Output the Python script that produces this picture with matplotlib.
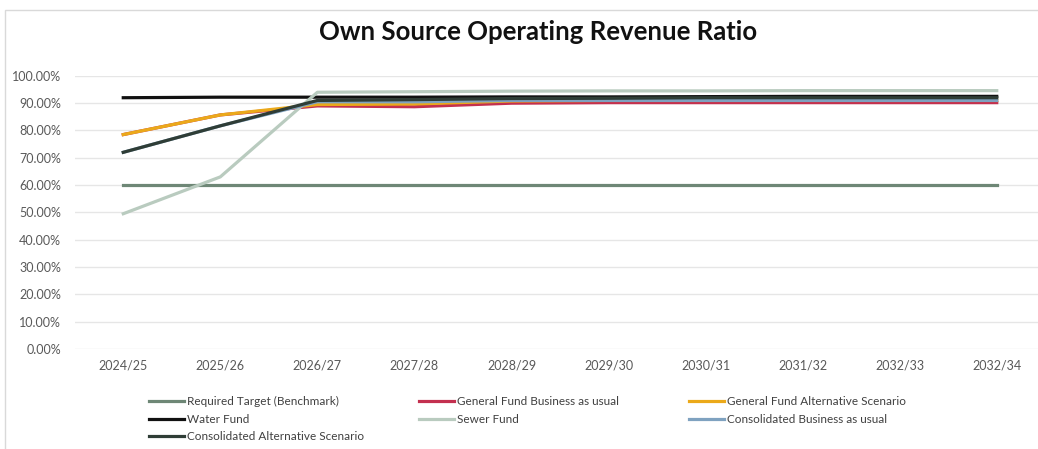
import matplotlib
matplotlib.use("Agg")
import matplotlib.pyplot as plt
from matplotlib.patches import Rectangle
from matplotlib.ticker import PercentFormatter

plt.rcParams['font.family'] = ['Lato', 'DejaVu Sans']

# Data
years = ["2024/25", "2025/26", "2026/27", "2027/28", "2028/29",
         "2029/30", "2030/31", "2031/32", "2032/33", "2032/34"]
required_target = [0.60, 0.60, 0.60, 0.60, 0.60, 0.60, 0.60, 0.60, 0.60, 0.60]
gf_business     = [0.785, 0.857, 0.890, 0.887, 0.900, 0.902, 0.902, 0.902, 0.902, 0.902]
gf_alternative  = [0.785, 0.857, 0.895, 0.897, 0.908, 0.910, 0.910, 0.910, 0.910, 0.910]
water_fund      = [0.920, 0.922, 0.922, 0.922, 0.923, 0.923, 0.924, 0.925, 0.925, 0.925]
sewer_fund      = [0.495, 0.630, 0.940, 0.942, 0.944, 0.945, 0.945, 0.946, 0.946, 0.946]
cons_business   = [0.720, 0.817, 0.905, 0.905, 0.910, 0.910, 0.910, 0.910, 0.910, 0.910]
cons_alternative = [0.720, 0.817, 0.910, 0.913, 0.917, 0.918, 0.920, 0.920, 0.920, 0.920]

fig = plt.figure(figsize=(10.38, 4.49), dpi=100)
ax = fig.add_axes([0.072, 0.223, 0.935, 0.608])

# light chart border like the Excel chart area
fig.patches.append(Rectangle((0.005, -0.05), 1.2, 1.028, transform=fig.transFigure,
                             fill=False, edgecolor="#d9d9d9", linewidth=1.0))

x = range(len(years))
lw = 2.3
l_req, = ax.plot(x, required_target, color="#6e8776", lw=lw, label="Required Target (Benchmark)")
l_gfb, = ax.plot(x, gf_business, color="#c3304f", lw=lw, label="General Fund Business as usual")
l_gfa, = ax.plot(x, gf_alternative, color="#eba91a", lw=lw, label="General Fund Alternative Scenario")
l_wat, = ax.plot(x, water_fund, color="#111111", lw=lw, label="Water Fund")
l_sew, = ax.plot(x, sewer_fund, color="#b9cbbf", lw=lw, label="Sewer Fund")
l_cb,  = ax.plot(x, cons_business, color="#7fa2c0", lw=lw, label="Consolidated Business as usual")
l_ca,  = ax.plot(x, cons_alternative, color="#2f3d36", lw=lw, label="Consolidated Alternative Scenario")

ax.set_xlim(-0.5, len(years) - 0.5)
ax.set_ylim(0, 1.0)
ax.set_yticks([i / 10 for i in range(11)])
ax.yaxis.set_major_formatter(PercentFormatter(1.0, decimals=2))
ax.set_xticks(list(x))
ax.set_xticklabels(years)
ax.tick_params(axis="both", length=0, labelsize=9, colors="#595959", pad=8)
ax.tick_params(axis="y", pad=10)
ax.grid(axis="y", color="#e6e6e6", linewidth=1.0)
ax.set_axisbelow(True)
for s in ax.spines.values():
    s.set_visible(False)

fig.text(0.518, 0.928, "Own Source Operating Revenue Ratio", ha="center", va="center",
         fontsize=18.5, fontweight="bold", color="#111111")

# legend laid out in three fixed columns, row by row as in the reference
columns = [([l_req, l_wat, l_ca], 0.139),
           ([l_gfb, l_sew], 0.399),
           ([l_gfa, l_cb], 0.659)]
for handles, xpos in columns:
    fig.legend(handles, [h.get_label() for h in handles], loc="upper left",
               bbox_to_anchor=(xpos, 0.128), frameon=False, fontsize=8.5,
               handlelength=3.0, handletextpad=0.25, labelspacing=0.55,
               borderaxespad=0, labelcolor="#404040")

fig.savefig("out.png", dpi=100)
